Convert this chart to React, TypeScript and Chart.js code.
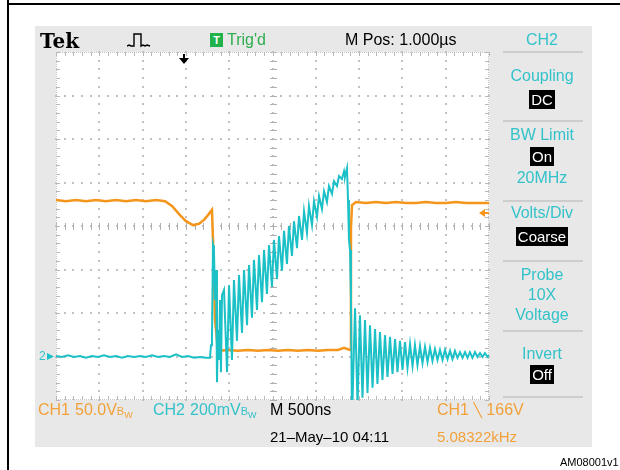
import { useEffect, useRef } from "react";
import { Chart, registerables } from "chart.js";

Chart.register(...registerables);

const CYAN = "#1cc1c7";
const ORANGE = "#f4951c";
const CYAN_TEXT = "#33c2c9";
const ORANGE_TEXT = "#f2a13a";
const GREEN = "#2fae4f";
const GRID = "#c2c2c2";

// time axis in ns (10 divisions of 500 ns), vertical axis in divisions (8 divisions)
const timeDivisions = [0, 500, 1000, 1500, 2000, 2500, 3000, 3500, 4000, 4500, 5000];
const voltDivisions = [-4, -3, -2, -1, 0, 1, 2, 3, 4];
const minorPerDivision = 5;
const triggerTime = 1480;
const triggerLevel = 0.3;
const ch2Ground = -3.0;

// CH1 (orange): [time ns, divisions]
const ch1Trace: [number, number][] = [
  [0, 0.6], [115, 0.57], [231, 0.6], [346, 0.57], [462, 0.6], [577, 0.57], [693, 0.6], [808, 0.57],
  [924, 0.6], [1039, 0.57], [1155, 0.6], [1259, 0.57], [1339, 0.46], [1432, 0.25], [1501, 0.11],
  [1582, 0.02], [1651, 0.05], [1709, 0.14], [1755, 0.25], [1801, 0.37], [1813, -0.32], [1836, -2.16],
  [1871, -2.87], [1986, -2.85], [2102, -2.87], [2217, -2.85], [2333, -2.87], [2448, -2.85], [2563, -2.87],
  [2679, -2.85], [2794, -2.87], [2910, -2.85], [3025, -2.87], [3141, -2.85], [3256, -2.85], [3326, -2.8],
  [3395, -2.85], [3406, -0.05], [3418, 0.48], [3464, 0.55], [3580, 0.53], [3695, 0.55], [3811, 0.53],
  [3926, 0.55], [4041, 0.53], [4157, 0.53], [4272, 0.55], [4388, 0.53], [4503, 0.53], [4619, 0.55],
  [4734, 0.53], [4850, 0.53], [5000, 0.53],
];

// CH2 (cyan): [time ns, divisions]
const ch2Trace: [number, number][] = [
  [0, -2.99], [69, -3.01], [139, -2.97], [208, -3.01], [277, -2.99], [346, -3.03], [416, -2.99], [485, -3.01],
  [554, -2.97], [624, -3.01], [693, -2.99], [762, -3.03], [831, -2.99], [901, -3.01], [970, -2.99],
  [1039, -3.01], [1109, -2.97], [1178, -3.01], [1247, -2.99], [1316, -3.01], [1386, -2.95], [1455, -3.01],
  [1524, -2.99], [1593, -3.03], [1663, -3.01], [1732, -3.03], [1778, -3.03],
  [1790, -2.74], [1801, -2.57], [1813, -0.44], [1824, -0.55], [1836, -1.7], [1848, -1.01], [1859, -3.59],
  [1871, -2.39], [1882, -3.08], [1894, -1.7], [1905, -3.36], [1917, -1.59],
  [1940, -1.47], [1975, -3.36], [1998, -1.36], [2032, -3.08], [2055, -1.24], [2090, -2.64], [2113, -1.13],
  [2148, -2.46], [2171, -1.01], [2206, -2.28], [2229, -0.9], [2263, -2.11], [2286, -0.78], [2321, -1.93],
  [2344, -0.67], [2379, -1.75], [2402, -0.55], [2436, -1.56], [2460, -0.44], [2494, -1.4], [2517, -0.32],
  [2552, -1.22], [2575, -0.23], [2610, -1.03], [2633, -0.11], [2667, -0.87], [2690, 0], [2725, -0.69],
  [2748, 0.11], [2783, -0.51], [2806, 0.23], [2841, -0.32], [2864, 0.34], [2898, -0.16], [2921, 0.46],
  [2956, 0.02], [2979, 0.57], [3014, 0.21], [3037, 0.69], [3071, 0.39], [3095, 0.8], [3129, 0.55],
  [3152, 0.92], [3187, 0.74], [3210, 1.03], [3245, 0.92], [3268, 1.15], [3302, 1.08], [3326, 1.26],
  [3337, 1.13], [3360, 1.33],
  [3372, 0.6], [3383, -0.32], [3395, -0.55], [3406, -1.7], [3418, -4.46], [3453, -1.89], [3482, -4.11],
  [3510, -2.05], [3539, -3.95], [3568, -2.16], [3597, -3.84], [3626, -2.28], [3655, -3.72], [3684, -2.37],
  [3712, -3.63], [3741, -2.44], [3770, -3.54], [3799, -2.51], [3828, -3.47], [3857, -2.55], [3886, -3.4],
  [3915, -2.6], [3943, -3.36], [3972, -2.64], [4001, -3.31], [4030, -2.67], [4059, -3.26], [4088, -2.71],
  [4117, -3.22], [4145, -2.74], [4174, -3.2], [4203, -2.76], [4232, -3.15], [4261, -2.78], [4290, -3.13],
  [4319, -2.8], [4347, -3.1], [4376, -2.83], [4405, -3.08], [4434, -2.85], [4463, -3.08], [4492, -2.85],
  [4521, -3.06], [4550, -2.87], [4578, -3.06], [4607, -2.87], [4636, -3.03], [4665, -2.9], [4694, -3.03],
  [4723, -2.9], [4752, -3.03], [4780, -2.9], [4809, -3.03], [4838, -2.9], [4867, -3.01], [4896, -2.92],
  [4925, -3.01], [4954, -2.92], [4983, -3.01], [5000, -2.97],
];

function minorValues(majors: number[]): number[] {
  const out: number[] = [];
  for (let i = 0; i < majors.length - 1; i++) {
    for (let k = 0; k < minorPerDivision; k++) {
      out.push(majors[i] + ((majors[i + 1] - majors[i]) * k) / minorPerDivision);
    }
  }
  out.push(majors[majors.length - 1]);
  return out;
}

const scopePlugin = {
  id: "scopeGraticule",
  beforeDatasetsDraw(chart: any) {
    const { ctx, chartArea: a } = chart;
    const xs = chart.scales.x;
    const ys = chart.scales.y;
    const px = (t: number) => Math.round(xs.getPixelForValue(t));
    const py = (v: number) => Math.round(ys.getPixelForValue(v));
    const mT = minorValues(timeDivisions);
    const mV = minorValues(voltDivisions);
    ctx.save();
    ctx.fillStyle = "#ffffff";
    ctx.fillRect(a.left, a.top, a.right - a.left, a.bottom - a.top);
    ctx.fillStyle = GRID;
    timeDivisions.slice(1, -1).forEach((t) => {
      const x = px(t);
      mV.forEach((v) => ctx.fillRect(x - 1, py(v) - 1, 2, 2));
    });
    voltDivisions.slice(1, -1).forEach((v) => {
      const y = py(v);
      mT.forEach((t) => ctx.fillRect(px(t) - 1, y - 1, 2, 2));
    });
    const cx = px(2500);
    const cy = py(0);
    ctx.fillStyle = "#b0b0b0";
    mV.forEach((v) => ctx.fillRect(cx - 3, py(v), 7, 1));
    mT.forEach((t) => ctx.fillRect(px(t), cy - 3, 1, 7));
    // edges
    ctx.fillStyle = "#c6c6c6";
    for (let x = a.left; x <= a.right; x += 2) {
      ctx.fillRect(x, a.top, 1, 1);
      ctx.fillRect(x, a.bottom - 1, 1, 1);
    }
    for (let y = a.top; y <= a.bottom; y += 2) {
      ctx.fillRect(a.left, y, 1, 1);
      ctx.fillRect(a.right - 1, y, 1, 1);
    }
    ctx.fillStyle = "#b8b8b8";
    mT.forEach((t) => {
      ctx.fillRect(px(t), a.top, 1, 4);
      ctx.fillRect(px(t), a.bottom - 4, 1, 4);
    });
    mV.forEach((v) => {
      ctx.fillRect(a.left, py(v), 4, 1);
      ctx.fillRect(a.right - 4, py(v), 4, 1);
    });
    ctx.restore();
  },
  afterDatasetsDraw(chart: any) {
    const { ctx, chartArea: a } = chart;
    const xs = chart.scales.x;
    const ys = chart.scales.y;
    ctx.save();
    // trigger position arrow
    const tx = Math.round(xs.getPixelForValue(triggerTime));
    ctx.fillStyle = "#000";
    ctx.fillRect(tx - 1, a.top + 2, 2, 7);
    ctx.beginPath();
    ctx.moveTo(tx - 5, a.top + 6);
    ctx.lineTo(tx + 5, a.top + 6);
    ctx.lineTo(tx, a.top + 12);
    ctx.closePath();
    ctx.fill();
    // trigger level arrow
    const ty = ys.getPixelForValue(triggerLevel);
    ctx.fillStyle = ORANGE;
    ctx.beginPath();
    ctx.moveTo(a.right - 10, ty);
    ctx.lineTo(a.right - 4, ty - 4);
    ctx.lineTo(a.right - 4, ty + 4);
    ctx.closePath();
    ctx.fill();
    ctx.fillRect(a.right - 5, ty - 1, 5, 2);
    // ch2 ground marker arrow
    const gy = ys.getPixelForValue(ch2Ground);
    ctx.fillStyle = CYAN;
    ctx.beginPath();
    ctx.moveTo(a.left - 9, gy - 3.5);
    ctx.lineTo(a.left - 9, gy + 3.5);
    ctx.lineTo(a.left - 2, gy);
    ctx.closePath();
    ctx.fill();
    ctx.restore();
  },
};

function Label(props: any) {
  const { x, y, color = "#000", size = 16, w, align = "left", children, style } = props;
  return (
    <div
      style={{
        position: "absolute",
        left: x,
        top: y - size / 2,
        width: w,
        textAlign: align,
        color,
        fontSize: size,
        lineHeight: `${size}px`,
        whiteSpace: "nowrap",
        ...style,
      }}
    >
      {children}
    </div>
  );
}

function Box({ children }: any) {
  return (
    <span style={{ background: "#000", color: "#fff", padding: "1px 2px", fontSize: 15 }}>{children}</span>
  );
}

function BW() {
  return (
    <span style={{ fontSize: 11 }}>
      B<span style={{ fontSize: 9, position: "relative", top: 3 }}>W</span>
    </span>
  );
}

export default function App() {
  const canvasRef = useRef<HTMLCanvasElement | null>(null);

  useEffect(() => {
    if (!canvasRef.current) return;
    const chart = new Chart(canvasRef.current, {
      type: "line",
      data: {
        datasets: [
          {
            label: "CH2",
            data: ch2Trace.map(([x, y]) => ({ x, y })),
            borderColor: CYAN,
            borderWidth: 2,
            pointRadius: 0,
            tension: 0,
          },
          {
            label: "CH1",
            data: ch1Trace.map(([x, y]) => ({ x, y })),
            borderColor: ORANGE,
            borderWidth: 2.5,
            pointRadius: 0,
            tension: 0,
          },
        ],
      },
      options: {
        animation: false,
        responsive: false,
        events: [],
        layout: { padding: { left: 56, top: 52, right: 131, bottom: 70 } },
        scales: {
          x: { type: "linear", min: timeDivisions[0], max: timeDivisions[timeDivisions.length - 1], display: false },
          y: { type: "linear", min: voltDivisions[0], max: voltDivisions[voltDivisions.length - 1], display: false },
        },
        plugins: { legend: { display: false }, tooltip: { enabled: false } },
      },
      plugins: [scopePlugin],
    });
    return () => chart.destroy();
  }, []);

  const sepTops = [51, 120, 200, 260, 330, 396];

  return (
    <div
      style={{
        position: "absolute",
        left: 0,
        top: 0,
        width: 620,
        height: 470,
        background: "#fff",
        overflow: "hidden",
        fontFamily: "'Liberation Sans', Arial, sans-serif",
      }}
    >
      <div style={{ position: "absolute", left: 7, top: 0, width: 2, height: 470, background: "#000" }} />
      <div style={{ position: "absolute", left: 7, top: 3, width: 613, height: 2, background: "#000" }} />
      <div style={{ position: "absolute", left: 35, top: 26, width: 557, height: 421, background: "#e8e8e8" }} />
      {sepTops.map((t) => (
        <div key={t} style={{ position: "absolute", left: 503, top: t, width: 80, height: 2, background: "#cdcdcd" }} />
      ))}
      <canvas ref={canvasRef} width={620} height={470} style={{ position: "absolute", left: 0, top: 0 }} />

      {/* top bar */}
      <Label x={40} y={41} size={20} style={{ fontFamily: "'DejaVu Serif', serif", fontWeight: "bold" }}>
        Tek
      </Label>
      <svg style={{ position: "absolute", left: 127, top: 32 }} width={24} height={16}>
        <polyline
          points="0,14 2,13 4,14 7,14 7,2 14,2 14,14 16,13 18,14 20,13 23,14"
          fill="none"
          stroke="#000"
          strokeWidth={1.4}
        />
      </svg>
      <div
        style={{
          position: "absolute",
          left: 210,
          top: 33,
          width: 13,
          height: 14,
          background: "#22b24c",
          color: "#fff",
          fontSize: 11,
          fontWeight: "bold",
          lineHeight: "14px",
          textAlign: "center",
        }}
      >
        T
      </div>
      <Label x={227} y={40} color={GREEN}>Trig'd</Label>
      <Label x={345} y={40}>M Pos: 1.000µs</Label>

      {/* right panel */}
      <Label x={503} w={78} align="center" y={40} color={CYAN_TEXT}>CH2</Label>
      <Label x={503} w={78} align="center" y={76} color={CYAN_TEXT}>Coupling</Label>
      <Label x={503} w={78} align="center" y={100}><Box>DC</Box></Label>
      <Label x={503} w={78} align="center" y={135} color={CYAN_TEXT}>BW Limit</Label>
      <Label x={503} w={78} align="center" y={157}><Box>On</Box></Label>
      <Label x={503} w={78} align="center" y={178} color={CYAN_TEXT}>20MHz</Label>
      <Label x={503} w={78} align="center" y={213} color={CYAN_TEXT}>Volts/Div</Label>
      <Label x={503} w={78} align="center" y={237}><Box>Coarse</Box></Label>
      <Label x={503} w={78} align="center" y={275} color={CYAN_TEXT}>Probe</Label>
      <Label x={503} w={78} align="center" y={295} color={CYAN_TEXT}>10X</Label>
      <Label x={503} w={78} align="center" y={315} color={CYAN_TEXT}>Voltage</Label>
      <Label x={503} w={78} align="center" y={354} color={CYAN_TEXT}>Invert</Label>
      <Label x={503} w={78} align="center" y={375}><Box>Off</Box></Label>

      {/* channel marker */}
      <Label x={39} y={356} size={12} color={CYAN_TEXT}>2</Label>

      {/* bottom bar */}
      <Label x={38} y={410} color={ORANGE_TEXT}>CH1</Label>
      <Label x={75} y={410} color={ORANGE_TEXT}>50.0V<BW /></Label>
      <Label x={153} y={410} color={CYAN_TEXT}>CH2</Label>
      <Label x={190} y={410} color={CYAN_TEXT}>200mV<BW /></Label>
      <Label x={270} y={410}>M 500ns</Label>
      <Label x={270} y={436} size={15}>21–May–10 04:11</Label>
      <Label x={437} y={410} color={ORANGE_TEXT}>CH1 <span style={{ fontFamily: "'DejaVu Sans', sans-serif", fontSize: 14 }}>╲</span> 166V</Label>
      <Label x={437} y={436} size={15} color={ORANGE_TEXT}>5.08322kHz</Label>
      <Label x={560} y={462} size={11}>AM08001v1</Label>
    </div>
  );
}
